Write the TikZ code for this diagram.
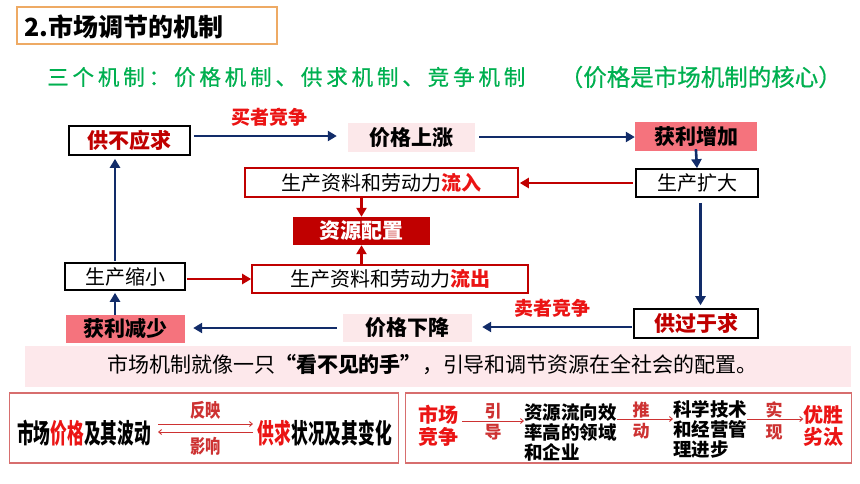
\documentclass[tikz,border=0pt]{standalone}
\usepackage{fontspec}
\setmainfont{Noto Sans CJK SC}
\newfontfamily\condf[FakeStretch=0.62]{Noto Sans CJK SC}
\newfontfamily\condfb[FakeStretch=0.8]{Noto Sans CJK SC}
\newfontfamily\greenf[FakeBold=0.6]{Noto Sans CJK SC}
\usetikzlibrary{arrows.meta}
\definecolor{navy}{RGB}{18,44,105}
\definecolor{dred}{RGB}{192,0,0}
\definecolor{bred}{RGB}{235,20,20}
\definecolor{lred}{RGB}{205,50,50}
\definecolor{lpink}{RGB}{252,232,234}
\definecolor{salmon}{RGB}{245,115,125}
\definecolor{bannerpink}{RGB}{253,232,235}
\definecolor{frame}{RGB}{215,110,110}
\definecolor{orangeb}{RGB}{238,170,100}
\definecolor{green}{RGB}{0,176,80}
\newcommand{\fsz}[1]{\fontsize{#1}{#1}\selectfont}
\tikzset{
  bbox/.style={draw=black, line width=1.6pt, inner sep=0pt},
  rbox/.style={draw=dred, line width=1.6pt, inner sep=0pt},
  pbox/.style={fill=lpink, inner sep=0pt},
  sbox/.style={fill=salmon, inner sep=0pt},
  lbl/.style={inner sep=0pt, font=\fsz{21}\bfseries},
  nrm/.style={inner sep=0pt, font=\fsz{20}},
  narr/.style={draw=navy, line width=2.6pt, -{Triangle[length=9pt,width=10pt]}},
  rarr/.style={draw=dred, line width=2.6pt, -{Triangle[length=9pt,width=10pt]}},
  tarr/.style={draw=lred, line width=0.9pt, -{Straight Barb[length=3pt,width=5pt]}},
  redlbl/.style={inner sep=0pt, text=bred, font=\fsz{19}\bfseries},
  small/.style={inner sep=0pt, text=lred, font=\fsz{17}\bfseries},
  multi/.style={inner sep=0pt, align=left, font=\fontsize{18.5}{20}\selectfont\bfseries},
}
\begin{document}
\begin{tikzpicture}[x=1pt,y=-1pt]
\useasboundingbox (0,0) rectangle (860,483);
\fill[white] (0,0) rectangle (860,483);
% title
\node[draw=orangeb, line width=1.2pt, minimum width=260pt, minimum height=37pt, inner sep=0pt] (title) at (147,25.5) {};
\node[anchor=west, inner sep=0pt, font=\fsz{25}\bfseries] (titletxt) at (24,27) {2.市场调节的机制};
% subtitle
\node[anchor=west, inner sep=0pt, text=green, font=\greenf\fsz{21.5}] (sub1) at (47,77) {\addfontfeature{LetterSpace=18}三个机制：价格机制、供求机制、竞争机制};
\node[anchor=east, inner sep=0pt, text=green, font=\greenf\fsz{23.5}] (sub2) at (842,77) {（价格是市场机制的核心）};
% boxes
\node[bbox, minimum width=121pt, minimum height=29pt, lbl, text=dred] (gbyq) at (129.5,140.5) {供不应求};
\node[pbox, minimum width=127pt, minimum height=29pt, lbl] (jgsz) at (411.5,137.5) {价格上涨};
\node[sbox, minimum width=122pt, minimum height=29pt, lbl] (hlzj) at (696,136.5) {获利增加};
\node[bbox, minimum width=122pt, minimum height=28pt, nrm] (scks) at (697,183) {生产扩大};
\node[rbox, minimum width=273pt, minimum height=29pt, nrm] (lr) at (381.5,182.5) {生产资料和劳动力\textcolor{bred}{\bfseries 流入}};
\node[fill=dred, inner sep=0pt, minimum width=137pt, minimum height=28pt, lbl, text=white] (zypz) at (361.5,231) {资源配置};
\node[rbox, minimum width=276pt, minimum height=28pt, nrm] (lc) at (390,279) {生产资料和劳动力\textcolor{bred}{\bfseries 流出}};
\node[bbox, minimum width=120pt, minimum height=27pt, nrm] (scxx) at (125,276.5) {生产缩小};
\node[sbox, minimum width=119pt, minimum height=28pt, lbl] (hljs) at (125.5,329) {获利减少};
\node[pbox, minimum width=129pt, minimum height=28pt, lbl] (jgxj) at (407.5,328) {价格下降};
\node[bbox, minimum width=124pt, minimum height=29pt, lbl, text=dred] (gghq) at (696,323.5) {供过于求};
% helper columns
\coordinate (leftcol) at (115,0);
\coordinate (rightcol) at (700.5,0);
% connectors
\draw[narr, shorten <=3pt, shorten >=11pt] (gbyq.east |- 0,136) -- (jgsz.west |- 0,136) node[midway, above=8pt, redlbl] (mzjz) {买者竞争};
\draw[narr, shorten <=4pt] (jgsz.east |- 0,137) -- (hlzj.west |- 0,137);
\draw[narr, shorten <=-2pt] (hlzj.south) -- (scks.north);
\draw[rarr, shorten <=2pt, shorten >=1pt] (scks.west |- 0,183) -- (lr.east |- 0,183);
\draw[rarr] (lr.south -| zypz) -- (zypz.north);
\draw[rarr] (lc.north -| zypz) -- (zypz.south);
\draw[rarr, shorten <=1pt] (scxx.east |- 0,279) -- (lc.west |- 0,279);
\draw[narr, shorten <=1pt, shorten >=3pt] (scxx.north -| leftcol) -- (gbyq.south -| leftcol);
\draw[narr, shorten >=2pt] (hljs.north -| leftcol) -- (scxx.south -| leftcol);
\draw[narr, shorten <=6pt, shorten >=8pt] (jgxj.west |- 0,328) -- (hljs.east |- 0,328);
\draw[narr, shorten <=1pt, shorten >=10pt] (gghq.west |- 0,327) -- (jgxj.east |- 0,327) node[midway, above=8pt, redlbl] (mzjz2) {卖者竞争};
\draw[narr, shorten <=5pt, shorten >=3pt] (scks.south -| rightcol) -- (gghq.north -| rightcol);
% banner
\node[fill=bannerpink, inner sep=0pt, minimum width=826pt, minimum height=41pt] (banner) at (438,366.5) {};
\node[inner sep=0pt, font=\fsz{21}] (bannertxt) at (432.5,365) {市场机制就像一只{\bfseries “看不见的手”}，引导和调节资源在全社会的配置。};
% bottom left box
\node[draw=frame, line width=1.3pt, minimum width=389pt, minimum height=70pt, inner sep=0pt] (blbox) at (204,428) {};
\node[anchor=west, inner sep=0pt, font=\condf\fsz{27}\bfseries] (price) at (17,433) {市场\textcolor{bred}{价格}及其波动};
\node[anchor=east, inner sep=0pt, font=\condf\fsz{27}\bfseries] (supply) at (392,433) {\textcolor{bred}{供求}状况及其变化};
\coordinate (pa) at (158,424);
\coordinate (pb) at (253,424);
\coordinate (pc) at (158,432);
\coordinate (pd) at (253,432);
\draw[tarr] (pa) -- (pb) node[midway, above=4pt, inner sep=0pt, text=lred, font=\condfb\fsz{19}\bfseries] (fy) {反映};
\draw[tarr] (pd) -- (pc) node[midway, below=5pt, inner sep=0pt, text=lred, font=\condfb\fsz{19}\bfseries] (yx) {影响};
% bottom right box
\node[draw=frame, line width=1.3pt, minimum width=446pt, minimum height=70pt, inner sep=0pt] (brbox) at (628.5,428) {};
\node[inner sep=0pt, align=center, text=bred, font=\fontsize{20}{22}\selectfont\bfseries] (scjz) at (438,426) {市场\\竞争};
\node[multi, anchor=north west] (zyl) at (524,403) {资源流向效\\率高的领域\\和企业};
\node[multi, anchor=north west] (kxjs) at (673,400) {科学技术\\和经营管\\理进步};
\node[inner sep=0pt, align=center, text=bred, font=\fontsize{20}{22}\selectfont\bfseries] (yslt) at (823.5,426) {优胜\\劣汰};
\draw[tarr] (scjz.east |- 0,421) ++(4pt,0) coordinate (s1) -- (zyl.west |- 0,421) coordinate (e1);
\node[small] (yin) at (493,411) {引};
\node[small] (dao) at (493,432) {导};
\draw[tarr] (zyl.east |- 0,419) -- (kxjs.west |- 0,419);
\node[small] (tui) at (641,410) {推};
\node[small] (dong) at (641,431) {动};
\draw[tarr] (kxjs.east |- 0,419) -- (yslt.west |- 0,419);
\node[small] (shi) at (774,410) {实};
\node[small] (xian) at (774,432) {现};
\end{tikzpicture}
\end{document}
